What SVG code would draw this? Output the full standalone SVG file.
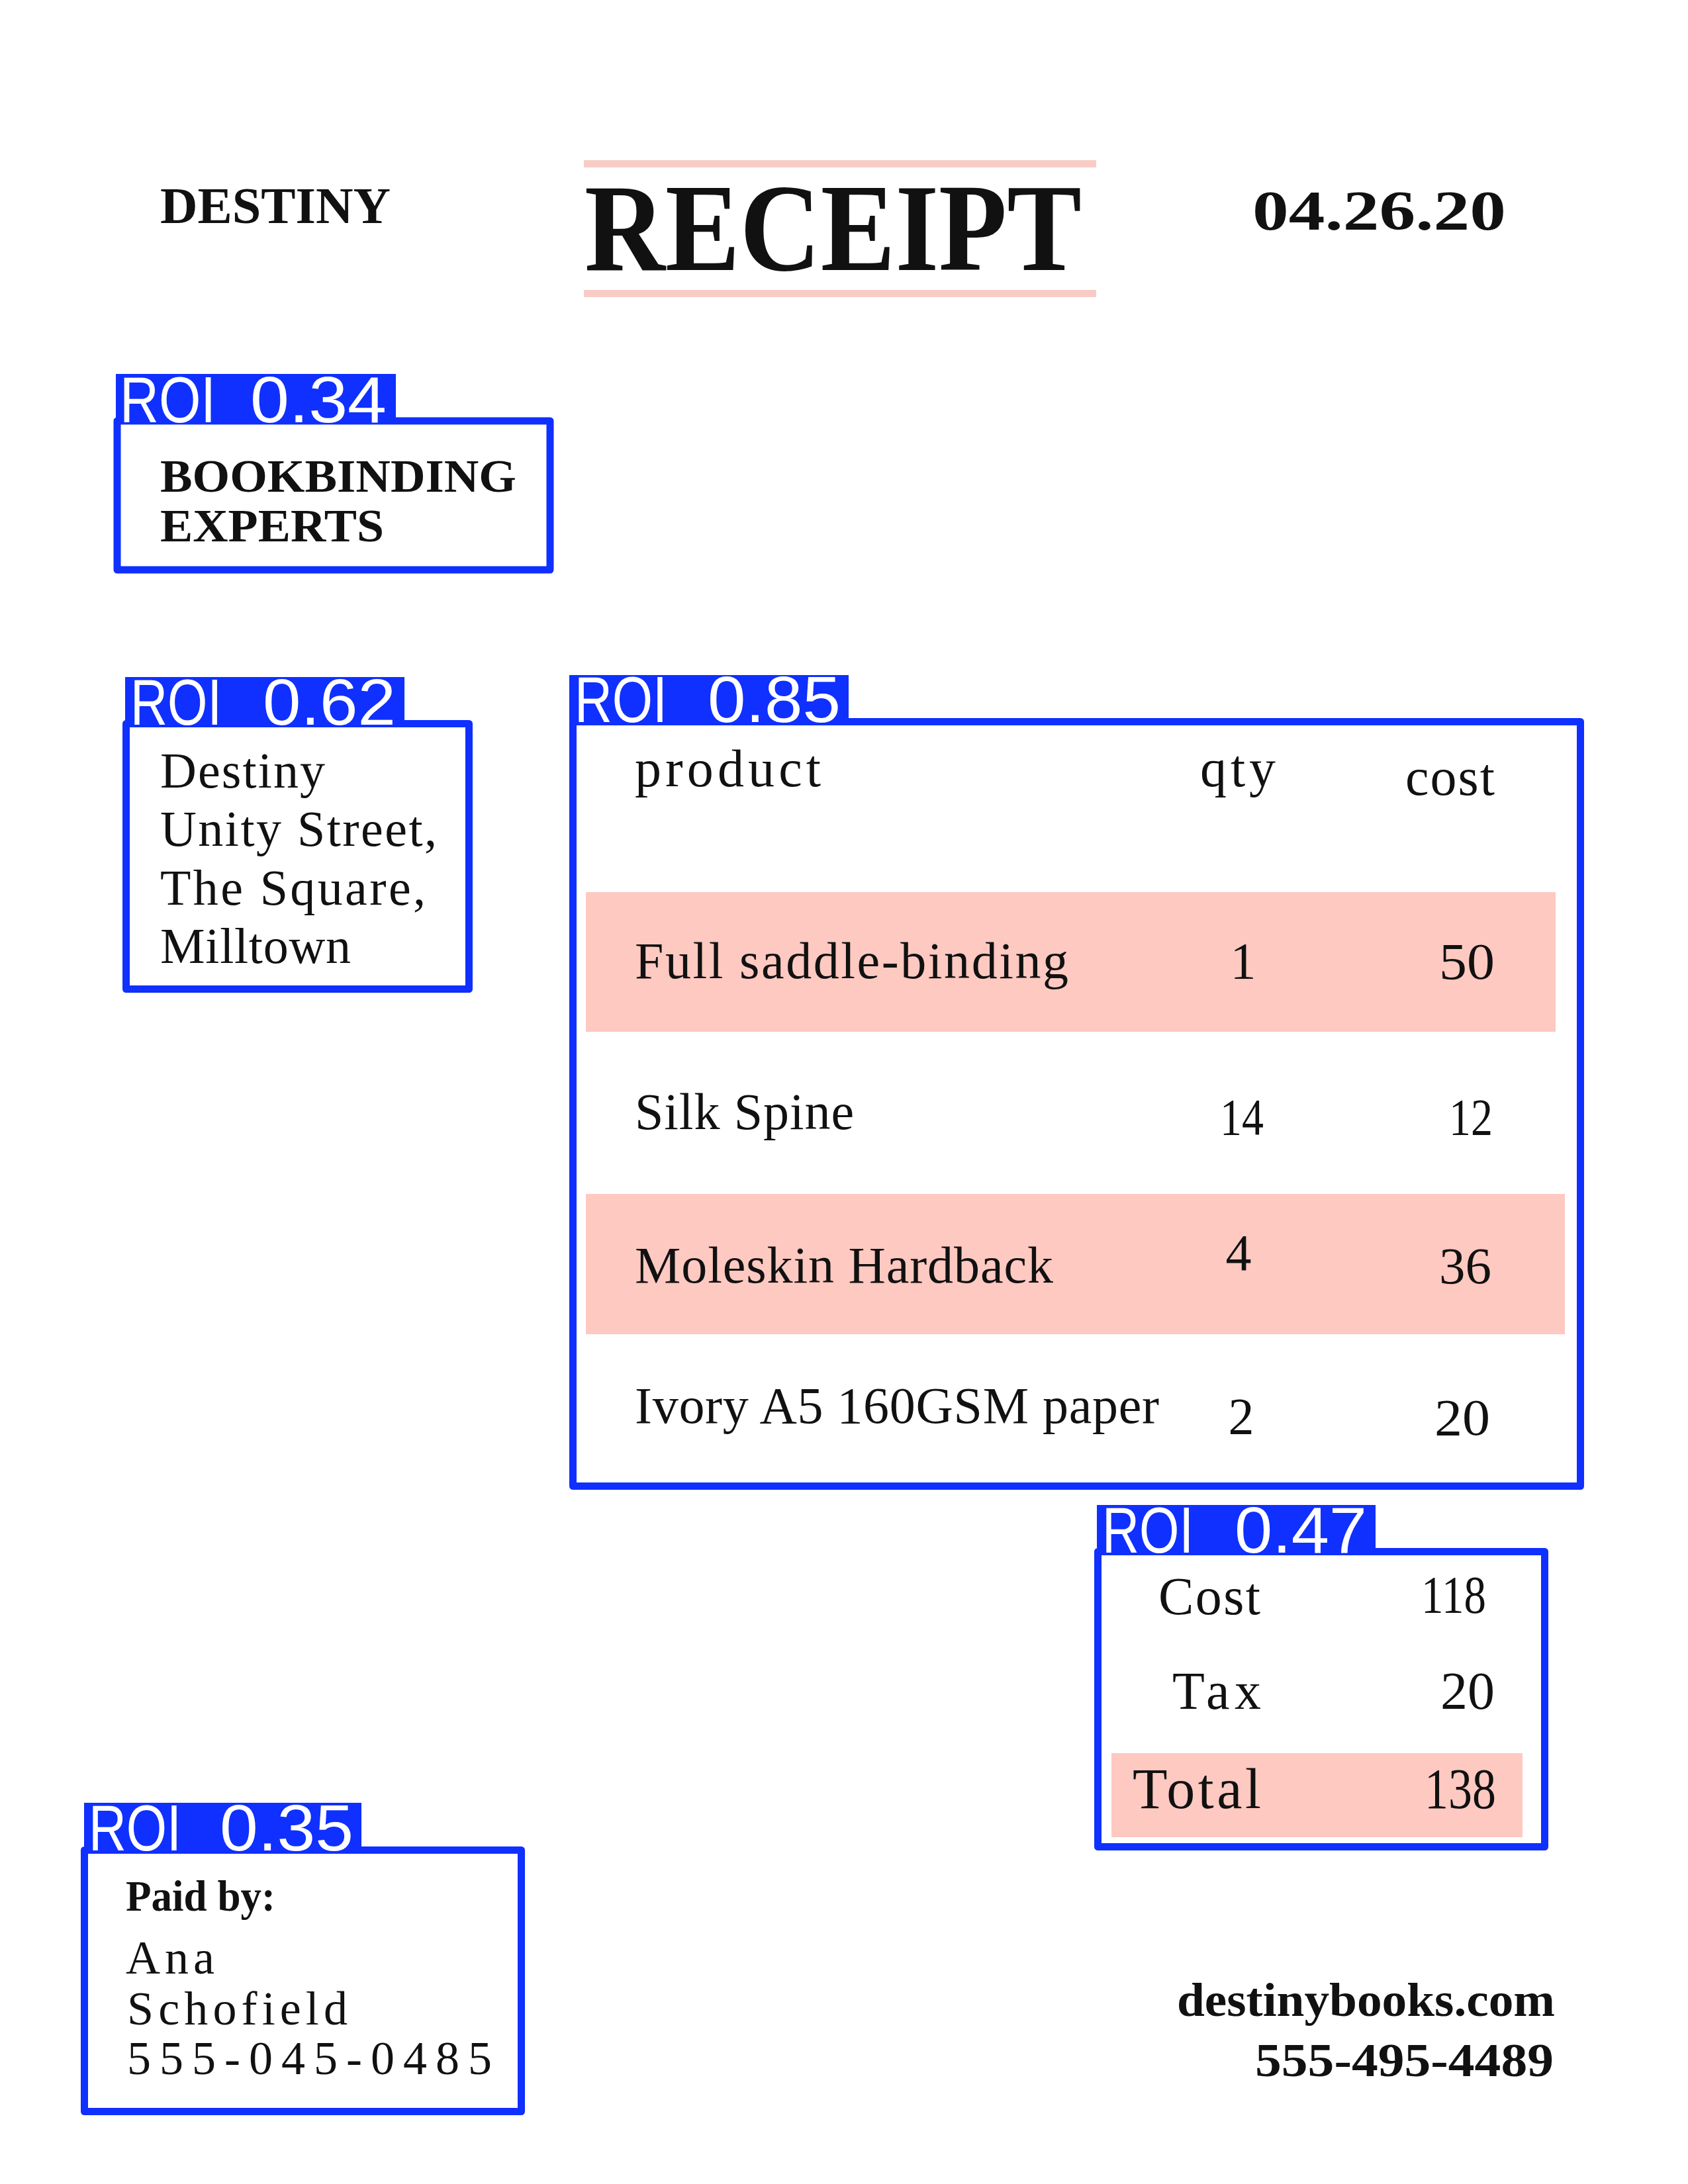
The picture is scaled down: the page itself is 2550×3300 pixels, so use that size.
<svg xmlns="http://www.w3.org/2000/svg" width="2550" height="3300" viewBox="0 0 2550 3300">
<style>
.t{font-family:"Liberation Serif","Times New Roman",serif;fill:#111}
.b{font-weight:bold}
.roi{fill:none;stroke:#0f30ff;stroke-width:11;stroke-linejoin:round}
.lbg{fill:#0f30ff}
.lt{font-family:"Liberation Sans","DejaVu Sans",sans-serif;fill:#fff;font-size:98px}
.pink{fill:#fdc9c1}
.bar{fill:#f8ccc6}
</style>
<rect width="2550" height="3300" fill="#fff"/>
<g id="header">
<rect class="bar" x="882" y="242" width="774" height="11"/>
<rect class="bar" x="882" y="438" width="774" height="11"/>
<text class="t b" x="242" y="337" font-size="78" textLength="348" lengthAdjust="spacingAndGlyphs">DESTINY</text>
<text class="t b" x="883" y="408" font-size="188" textLength="751" lengthAdjust="spacingAndGlyphs">RECEIPT</text>
<text class="t b" x="1892" y="347" font-size="84" textLength="383" lengthAdjust="spacingAndGlyphs">04.26.20</text>
</g>
<g id="roi-034">
<rect class="roi" x="177" y="636" width="654" height="225"/>
<rect class="lbg" x="175" y="565" width="423" height="68"/>
<text class="lt" x="181" y="638" textLength="145" lengthAdjust="spacingAndGlyphs">ROI</text>
<text class="lt" x="378" y="638" textLength="206" lengthAdjust="spacingAndGlyphs">0.34</text>
<text class="t b" x="242" y="743" font-size="70" textLength="538" lengthAdjust="spacingAndGlyphs">BOOKBINDING</text>
<text class="t b" x="242" y="818" font-size="70" textLength="338" lengthAdjust="spacingAndGlyphs">EXPERTS</text>
</g>
<g id="roi-062">
<rect class="roi" x="190.5" y="1093.5" width="518" height="401"/>
<rect class="lbg" x="189" y="1023" width="422" height="66"/>
<text class="lt" x="197" y="1095" textLength="138" lengthAdjust="spacingAndGlyphs">ROI</text>
<text class="lt" x="397" y="1095" textLength="201" lengthAdjust="spacingAndGlyphs">0.62</text>
<text class="t" x="242" y="1190" font-size="76" textLength="249" lengthAdjust="spacing">Destiny</text>
<text class="t" x="242" y="1278" font-size="76" textLength="418" lengthAdjust="spacing">Unity Street,</text>
<text class="t" x="242" y="1367" font-size="76" textLength="401" lengthAdjust="spacing">The Square,</text>
<text class="t" x="242" y="1455" font-size="76" textLength="288" lengthAdjust="spacing">Milltown</text>
</g>
<g id="roi-085">
<rect class="pink" x="885" y="1348" width="1465" height="211"/>
<rect class="pink" x="885" y="1804" width="1479" height="212"/>
<rect class="roi" x="865.5" y="1090.5" width="1522" height="1155"/>
<rect class="lbg" x="860" y="1020" width="422" height="69"/>
<text class="lt" x="868" y="1091" textLength="140" lengthAdjust="spacingAndGlyphs">ROI</text>
<text class="lt" x="1069" y="1091" textLength="201" lengthAdjust="spacingAndGlyphs">0.85</text>
<text class="t" x="959" y="1188" font-size="80" textLength="281" lengthAdjust="spacing">product</text>
<text class="t" x="1813" y="1188" font-size="80" textLength="114" lengthAdjust="spacing">qty</text>
<text class="t" x="2123" y="1201" font-size="80" textLength="135" lengthAdjust="spacing">cost</text>
<text class="t" x="959" y="1478" font-size="78" textLength="655" lengthAdjust="spacing">Full saddle-binding</text>
<text class="t" x="1878" y="1478" font-size="78" text-anchor="middle">1</text>
<text class="t" x="2174" y="1479" font-size="78" textLength="84" lengthAdjust="spacingAndGlyphs">50</text>
<text class="t" x="959" y="1706" font-size="78" textLength="331" lengthAdjust="spacing">Silk Spine</text>
<text class="t" x="1843" y="1714" font-size="78" textLength="66" lengthAdjust="spacingAndGlyphs">14</text>
<text class="t" x="2189" y="1714" font-size="78" textLength="66" lengthAdjust="spacingAndGlyphs">12</text>
<text class="t" x="959" y="1938" font-size="78" textLength="632" lengthAdjust="spacing">Moleskin Hardback</text>
<text class="t" x="1871" y="1919" font-size="78" text-anchor="middle">4</text>
<text class="t" x="2174" y="1939" font-size="78" textLength="79" lengthAdjust="spacingAndGlyphs">36</text>
<text class="t" x="959" y="2150" font-size="78" textLength="792" lengthAdjust="spacing">Ivory A5 160GSM paper</text>
<text class="t" x="1875" y="2166" font-size="78" text-anchor="middle">2</text>
<text class="t" x="2167" y="2168" font-size="78" textLength="84" lengthAdjust="spacingAndGlyphs">20</text>
</g>
<g id="roi-047">
<rect class="pink" x="1679" y="2649" width="621" height="127"/>
<rect class="roi" x="1658.5" y="2344.5" width="675" height="446"/>
<rect class="lbg" x="1657" y="2274" width="421" height="65"/>
<text class="lt" x="1665" y="2346" textLength="138" lengthAdjust="spacingAndGlyphs">ROI</text>
<text class="lt" x="1865" y="2346" textLength="200" lengthAdjust="spacingAndGlyphs">0.47</text>
<text class="t" x="1750" y="2439" font-size="80" textLength="154" lengthAdjust="spacing">Cost</text>
<text class="t" x="2147" y="2437" font-size="80" textLength="98" lengthAdjust="spacingAndGlyphs">118</text>
<text class="t" x="1771" y="2582" font-size="80" textLength="134" lengthAdjust="spacing">Tax</text>
<text class="t" x="2176" y="2582" font-size="80" textLength="82" lengthAdjust="spacingAndGlyphs">20</text>
<text class="t" x="1711" y="2732" font-size="86" textLength="194" lengthAdjust="spacing">Total</text>
<text class="t" x="2152" y="2732" font-size="86" textLength="108" lengthAdjust="spacingAndGlyphs">138</text>
</g>
<g id="roi-035">
<rect class="roi" x="127.5" y="2795.5" width="660" height="395"/>
<rect class="lbg" x="127" y="2724" width="419" height="66"/>
<text class="lt" x="134" y="2796" textLength="140" lengthAdjust="spacingAndGlyphs">ROI</text>
<text class="lt" x="332" y="2796" textLength="202" lengthAdjust="spacingAndGlyphs">0.35</text>
<text class="t b" x="190" y="2887" font-size="66" textLength="226" lengthAdjust="spacingAndGlyphs">Paid by:</text>
<text class="t" x="190" y="2982" font-size="72" textLength="134" lengthAdjust="spacing">Ana</text>
<text class="t" x="192" y="3059" font-size="72" textLength="333" lengthAdjust="spacing">Schofield</text>
<text class="t" x="192" y="3134" font-size="72" textLength="551" lengthAdjust="spacing">555-045-0485</text>
</g>
<g id="footer">
<text class="t b" x="1778" y="3046" font-size="72" textLength="571" lengthAdjust="spacingAndGlyphs">destinybooks.com</text>
<text class="t b" x="1896" y="3137" font-size="72" textLength="451" lengthAdjust="spacingAndGlyphs">555-495-4489</text>
</g>
<g id="connectors"></g>
</svg>
